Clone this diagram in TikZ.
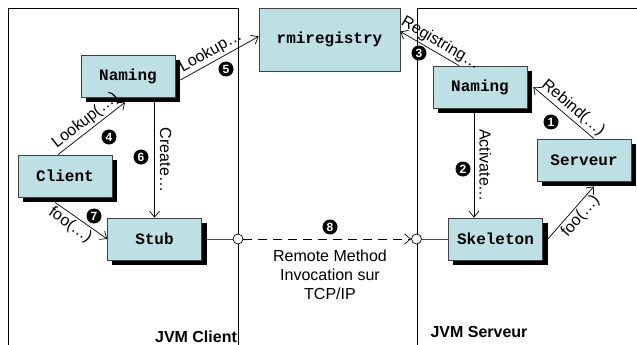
\documentclass[tikz,border=0pt]{standalone}
\usepackage{fontspec}
\setmainfont{Liberation Sans}
\newfontfamily\boxfont{Liberation Mono}
\usetikzlibrary{arrows.meta,calc}
\definecolor{boxfill}{RGB}{188,224,228}
\begin{document}
\begin{tikzpicture}[x=1pt,y=-1pt,
  obj/.style={draw=black!75, line width=0.7pt, fill=boxfill, minimum width=94pt, minimum height=42pt, inner sep=0pt, font=\boxfont\bfseries\fontsize{16}{18}\selectfont},
  conn/.style={line width=0.7pt, -{Straight Barb[length=6pt,width=10pt]}},
  lbl/.style={font=\fontsize{16}{19}\selectfont, inner sep=2pt},
  num/.style={circle, fill=black, text=white, minimum size=15pt, inner sep=0pt, font=\bfseries\fontsize{12}{12}\selectfont},
  jvmframe/.style={line width=0.8pt},
  port/.style={circle, draw, fill=white, minimum size=10pt, inner sep=0pt, line width=0.7pt},
  wire/.style={line width=0.7pt, draw=black!70}]
\useasboundingbox (0,0) rectangle (637,345);
\draw[jvmframe] (8,345) -- (8,8) -- (238,8) -- (238,345);
\draw[jvmframe] (417,345) -- (417,8) -- (637,8);
% objects
\node[obj, minimum width=141pt, minimum height=63pt] (rr) at (329.5,39.5) {rmiregistry};
\node[obj] (nc) at (128,76) {Naming};
\node[obj] (cl) at (65,176) {Client};
\node[obj] (st) at (154.5,239) {Stub};
\node[obj] (ns) at (480,87) {Naming};
\node[obj] (sv) at (584,160) {Serveur};
\node[obj] (sk) at (495.5,239) {Skeleton};
% drop shadows (right and bottom strips)
\foreach \b in {nc,cl,st,ns,sv,sk}{
  \path (\b.north east) coordinate (ne) (\b.south east) coordinate (se) (\b.south west) coordinate (sw);
  \fill[black] ($(ne)+(0.35,5)$) rectangle ($(se)+(5,5)$);
  \fill[black] ($(sw)+(5,0.35)$) rectangle ($(se)+(5,5)$);
}
\node[port] (pl) at (238,239) {};
\node[port] (pr) at (416.5,239) {};
% client side
\draw[conn] ([xshift=-7pt]cl.north) -- node[lbl,sloped,above]{Lookup(…)} ([xshift=-3pt,yshift=-5pt]nc.south);
\draw[conn] ([xshift=5pt,yshift=-4pt]nc.east) -- node[lbl,sloped,above,pos=0.45]{Lookup…} ([yshift=3pt]rr.west);
\draw[conn] ([xshift=-10pt,yshift=-5pt]cl.south) -- node[lbl,sloped,below,pos=0.4]{foo(…)} (st.west);
\draw[conn] ([yshift=-5pt]st.north |- nc.south) -- node[lbl,rotate=-90,anchor=south,inner sep=5pt]{Create…} (st.north);
% server side
\coordinate (a1) at ($(ns.south)+(-6,5)$);
\draw[conn] (a1) -- node[lbl,rotate=-90,anchor=south,inner sep=5pt]{Activate…} (a1 |- sk.north);
\draw[conn] ([xshift=-21pt]ns.north) -- node[lbl,sloped,above,pos=0.4]{Registring…} ([yshift=8pt]rr.east);
\draw[conn] ([xshift=10pt]sv.north) -- node[lbl,sloped,above,pos=0.45]{Rebind(…)} ([xshift=6pt]ns.east);
\draw[conn] ([xshift=5pt]sk.east) -- node[lbl,sloped,below,pos=0.55]{foo(…)} ([xshift=10pt,yshift=-5pt]sv.south);
% remote invocation
\draw[wire] ([xshift=5pt]st.east) -- (pl);
\draw[conn, dash pattern=on 9pt off 6pt] (pl) -- (pr);
\draw[wire] (pr) -- (sk.west);
\node[lbl, align=center] (rmi) at (330,275) {Remote Method\\Invocation sur\\TCP/IP};
% step numbers
\node[num] (n1) at (551,122) {1};
\node[num] (n2) at (463,169) {2};
\node[num] (n3) at (419,53) {3};
\node[num] (n4) at (109,137) {4};
\node[num] (n5) at (226,69) {5};
\node[num] (n6) at (141,157) {6};
\node[num] (n7) at (94,216) {7};
\node[num] (n8) at (330,227) {8};
% JVM labels
\node[font=\bfseries\fontsize{16}{19}\selectfont] (jc) at (196,337) {JVM Client};
\node[font=\bfseries\fontsize{16}{19}\selectfont] (js) at (479,332) {JVM Serveur};
\end{tikzpicture}
\end{document}
